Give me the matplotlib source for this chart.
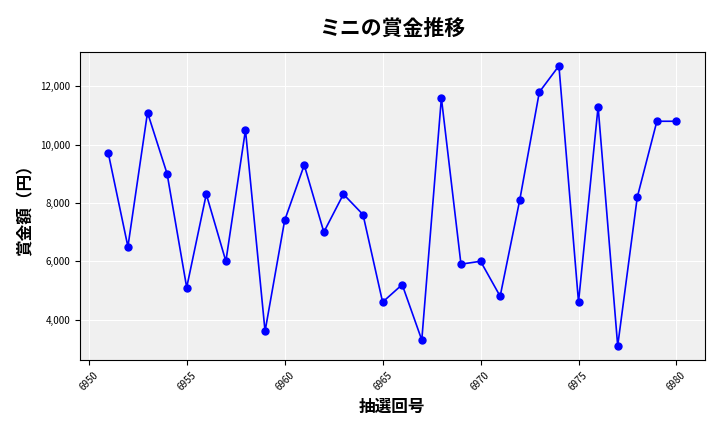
import matplotlib
matplotlib.use("Agg")
import matplotlib.pyplot as plt
from matplotlib.ticker import FuncFormatter

plt.rcParams['font.family'] = ['Noto Sans CJK JP', 'DejaVu Sans']

draws = list(range(6951, 6981))
prizes = [9700, 6500, 11100, 9000, 5100, 8300, 6000, 10500, 3600, 7400,
          9300, 7000, 8300, 7600, 4600, 5200, 3300, 11600, 5900, 6000,
          4800, 8100, 11800, 12700, 4600, 11300, 3100, 8200, 10800, 10800]

fig = plt.figure(figsize=(7.2, 4.32), dpi=100)
ax = fig.add_axes([0.111, 0.167, 0.868, 0.713])
ax.set_facecolor('#f0f0f0')
ax.grid(True, color='white', linewidth=0.8)
ax.set_axisbelow(True)
ax.plot(draws, prizes, color='blue', marker='o', markersize=5, linewidth=1.2)
ax.set_title('ミニの賞金推移', fontsize=15, fontweight='bold', pad=12)
ax.set_xlabel('抽選回号', fontsize=12, fontweight='bold')
ax.set_ylabel('賞金額（円）', fontsize=12, fontweight='bold')
ax.yaxis.set_major_formatter(FuncFormatter(lambda v, p: f'{int(v):,}'))
ax.set_xticks(range(6950, 6981, 5))
ax.tick_params(axis='x', labelrotation=45, labelsize=7)
ax.tick_params(axis='y', labelsize=7)
fig.savefig('out.png', dpi=100)
